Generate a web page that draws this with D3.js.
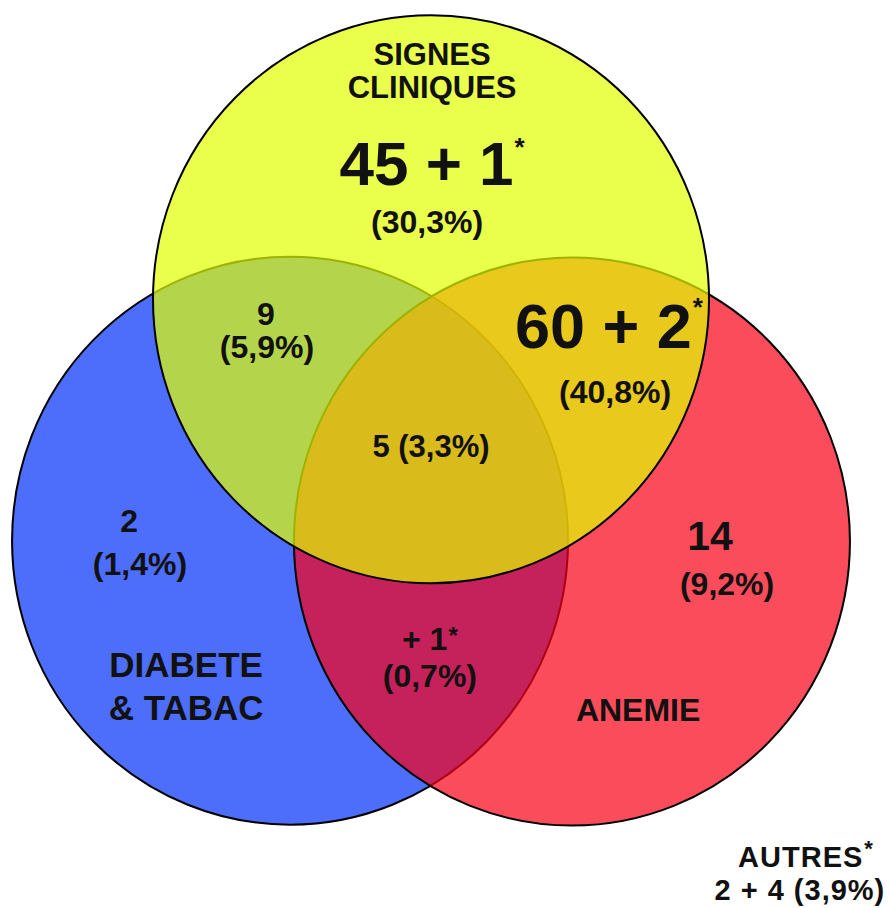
<!DOCTYPE html>
<html>
<head>
<meta charset="utf-8">
<script src="https://cdn.jsdelivr.net/npm/d3@7"></script>
<style>
  body { margin: 0; background: #fff; }
  svg { display: block; font-family: "Liberation Sans", Arial, sans-serif; font-weight: bold; }
  text { fill: #111; }
</style>
</head>
<body>
<svg id="venn" width="890" height="908"></svg>
<script>
// ensembles (ordre de dessin : bleu, rouge, jaune)
const setKeys = ["D", "A", "S"];
const setNames = [["DIABETE", "& TABAC"], ["ANEMIE"], ["SIGNES", "CLINIQUES"]];
const setColors = ["rgb(0,49,249)", "rgb(249,0,21)", "rgb(225,255,0)"];

// régions : effectif, cas marqués d'un astérisque, pourcentage
const regionKeys = ["S", "SD", "SA", "SDA", "D", "A", "DA", "autres"];
const regionCounts = [45, 9, 60, 5, 2, 14, 0, 2];
const regionStars = [1, 0, 2, 0, 0, 0, 1, 4];
const regionPercents = [30.3, 5.9, 40.8, 3.3, 1.4, 9.2, 0.7, 3.9];

const width = 890, height = 908;
const svg = d3.select("#venn");

// repère du diagramme : rayon des cercles = 1
const x = d3.scaleLinear().domain([-1, 1]).range([153, 709]);
const y = d3.scaleLinear().domain([-1, 1]).range([136, 704]);
const rx = x(1) - x(0), ry = y(1) - y(0);

const centers = {D: [-0.507, 0.425], A: [0.507, 0.428], S: [0, -0.425]};

const fmt = d3.formatLocale({decimal: ",", thousands: "\u00a0", grouping: [3], currency: ["", " €"]}).format(".1f");
const pct = v => "(" + fmt(v) + "%)";

svg.selectAll("ellipse")
    .data(setKeys)
    .enter()
    .append("ellipse")
    .attr("cx", d => x(centers[d][0]))
    .attr("cy", d => y(centers[d][1]))
    .attr("rx", rx)
    .attr("ry", ry)
    .style("fill", (d, i) => setColors[i])
    .style("fill-opacity", 0.7)
    .style("stroke", "#000")
    .style("stroke-width", 2);

// titres des ensembles
const titlePos = {S: [0.004, -1.250, 33, 31], D: [-0.881, 0.905, 43, 35], A: [0.745, 1.060, 0, 32]};
setKeys.forEach((k, i) => {
    const p = titlePos[k];
    const t = svg.append("text")
        .attr("text-anchor", "middle")
        .style("font-size", p[3] + "px");
    setNames[i].forEach((line, j) => {
        t.append("tspan")
            .attr("x", x(p[0]))
            .attr("y", y(p[1]) + j * p[2])
            .text(line);
    });
});

// mise en page des étiquettes (unités du repère)
const labelLayout = {
    S:      {p1: [0.004, -0.827], p2: [-0.014, -0.658], s1: 62, s2: 32, starDy: -29, starSize: 26},
    SD:     {p1: [-0.594, -0.335], p2: [-0.590, -0.218], s1: 32, s2: 32},
    SA:     {p1: [0.640, -0.254], p2: [0.662, -0.060], s1: 63, s2: 32, starDy: -32, starSize: 26},
    SDA:    {p1: [0, 0.130], s1: 31, inline: true},
    D:      {p1: [-1.086, 0.394], p2: [-1.047, 0.546], s1: 32, s2: 32},
    A:      {p1: [1.004, 0.458], p2: [1.065, 0.616], s1: 41, s2: 32},
    DA:     {p1: [-0.004, 0.810], p2: [-0.004, 0.940], s1: 32, s2: 32, starDy: -6, starSize: 24},
    autres: {p1: [1.349, 1.574], p2: [1.327, 1.690], s1: 29, s2: 29, starDy: -11, starSize: 22, spacing: 1}
};

function addStar(t, L) {
    t.append("tspan")
        .attr("dx", 1)
        .attr("dy", L.starDy)
        .style("font-size", L.starSize + "px")
        .text("*");
}

regionKeys.forEach((k, i) => {
    const L = labelLayout[k];
    const n = regionCounts[i], st = regionStars[i], p = regionPercents[i];
    const t1 = svg.append("text")
        .attr("text-anchor", "middle")
        .attr("x", x(L.p1[0]))
        .attr("y", y(L.p1[1]))
        .style("font-size", L.s1 + "px");

    if (k === "autres") {
        t1.style("letter-spacing", L.spacing + "px");
        t1.append("tspan").text("AUTRES");
        addStar(t1, L);
        svg.append("text")
            .attr("text-anchor", "middle")
            .attr("x", x(L.p2[0]))
            .attr("y", y(L.p2[1]))
            .style("font-size", L.s2 + "px")
            .style("letter-spacing", L.spacing + "px")
            .text(n + " + " + st + " " + pct(p));
        return;
    }
    if (L.inline) {
        t1.text(n + " " + pct(p));
        return;
    }
    let main = n > 0 ? String(n) : "";
    if (st > 0) main = (n > 0 ? main + " + " : "+ ") + st;
    t1.append("tspan").text(main);
    if (st > 0) addStar(t1, L);

    svg.append("text")
        .attr("text-anchor", "middle")
        .attr("x", x(L.p2[0]))
        .attr("y", y(L.p2[1]))
        .style("font-size", L.s2 + "px")
        .text(pct(p));
});
</script>
</body>
</html>
